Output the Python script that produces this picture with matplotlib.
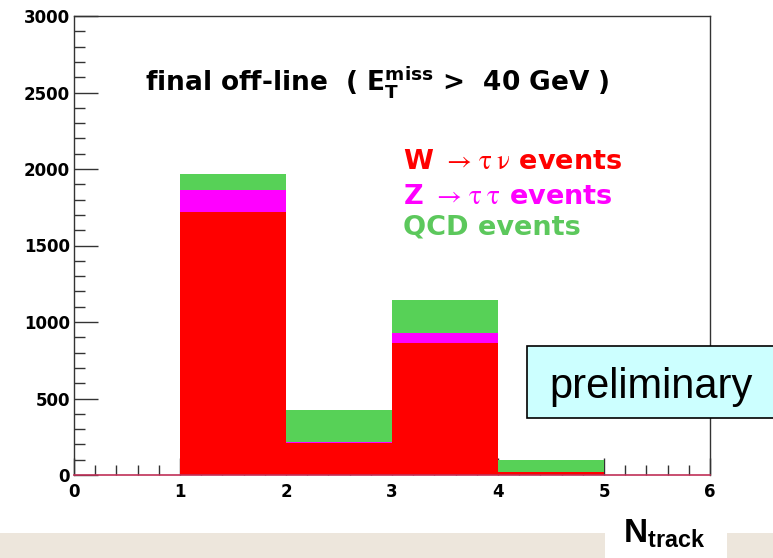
import matplotlib
matplotlib.use("Agg")
import matplotlib.pyplot as plt
from matplotlib.patches import Rectangle
from matplotlib.ticker import MultipleLocator

from matplotlib import rcParams
rcParams['font.family'] = 'sans-serif'
rcParams['font.sans-serif'] = ['DejaVu Sans']
rcParams['mathtext.fontset'] = 'stix'
rcParams['mathtext.default'] = 'regular'

# N_track bins and stacked event counts
bin_edges = [0, 1, 2, 3, 4, 5, 6]
w_tau_nu = [0, 1720, 208, 863, 20, 0]
z_tau_tau = [0, 143, 8, 65, 2, 0]
qcd = [0, 104, 209, 216, 76, 0]

red = '#ff0000'
magenta = '#ff00ff'
green = '#57d157'

fig = plt.figure(figsize=(7.73, 5.58), dpi=100)
ax = fig.add_axes([74/773, 1 - 475/558, (710 - 74)/773, (475 - 16)/558])

left = bin_edges[:-1]
bottom_z = w_tau_nu
bottom_q = [a + b for a, b in zip(w_tau_nu, z_tau_tau)]
ax.bar(left, w_tau_nu, width=1, align='edge', color=red, linewidth=0)
ax.bar(left, z_tau_tau, width=1, align='edge', bottom=bottom_z, color=magenta, linewidth=0)
ax.bar(left, qcd, width=1, align='edge', bottom=bottom_q, color=green, linewidth=0)
ax.set_axisbelow(True)

ax.set_xlim(0, 6)
ax.set_ylim(0, 3000)
ax.xaxis.set_major_locator(MultipleLocator(1))
ax.xaxis.set_minor_locator(MultipleLocator(0.2))
ax.yaxis.set_major_locator(MultipleLocator(500))
ax.yaxis.set_minor_locator(MultipleLocator(100))
ax.tick_params(which='both', direction='in', top=False, right=False,
               color='#333333', width=1)
ax.tick_params(axis='y', which='major', length=17, pad=3)
ax.tick_params(axis='y', which='minor', length=8)
ax.tick_params(axis='x', which='major', length=12, pad=6)
ax.tick_params(axis='x', which='minor', length=7)
for lab in ax.get_xticklabels() + ax.get_yticklabels():
    lab.set_fontsize(12)
    lab.set_fontweight('bold')
for s in ['left', 'top', 'right']:
    ax.spines[s].set_color('#333333')
    ax.spines[s].set_linewidth(1)
ax.spines['bottom'].set_color('#c03058')
ax.spines['bottom'].set_linewidth(1.2)

fig.text(145/773, 1 - 91/558,
         r'final off-line  ( E$_{T}^{miss}$ >  40 GeV )',
         fontsize=19, fontweight='bold', va='baseline', ha='left')

fig.text(403/773, 1 - 169/558,
         r'W $\mathrm{\rightarrow}\,\mathrm{\tau}\;\mathrm{\nu}$ events',
         fontsize=19.5, fontweight='bold', color=red, va='baseline')
fig.text(403/773, 1 - 204/558,
         r'Z $\mathrm{\rightarrow}\,\mathrm{\tau}\;\mathrm{\tau}$ events',
         fontsize=19.5, fontweight='bold', color=magenta, va='baseline')
fig.text(403/773, 1 - 234/558, 'QCD events',
         fontsize=19.5, fontweight='bold', color='#5cc85c', va='baseline')

# preliminary box
fig.add_artist(Rectangle((527/773, 1 - 418/558), 0.4, (418 - 345.5)/558,
                         transform=fig.transFigure, facecolor='#ccffff',
                         edgecolor='black', linewidth=1.2, zorder=5))
fig.text(651/773, 1 - 398/558, 'preliminary', fontsize=30,
         family='Liberation Sans', ha='center', va='baseline', zorder=6)

# beige strip along the bottom
fig.add_artist(Rectangle((0, 0), 605/773, 25/558, transform=fig.transFigure,
                         facecolor='#ede6dc', edgecolor='none', zorder=1))
fig.add_artist(Rectangle((727/773, 0), 46/773, 25/558, transform=fig.transFigure,
                         facecolor='#ede6dc', edgecolor='none', zorder=1))
fig.text(623/773, 1 - 543/558, r'N$_{track}$', fontsize=24,
         family='Liberation Sans', fontweight='bold', va='baseline', ha='left')

fig.savefig('out.png', dpi=100)
